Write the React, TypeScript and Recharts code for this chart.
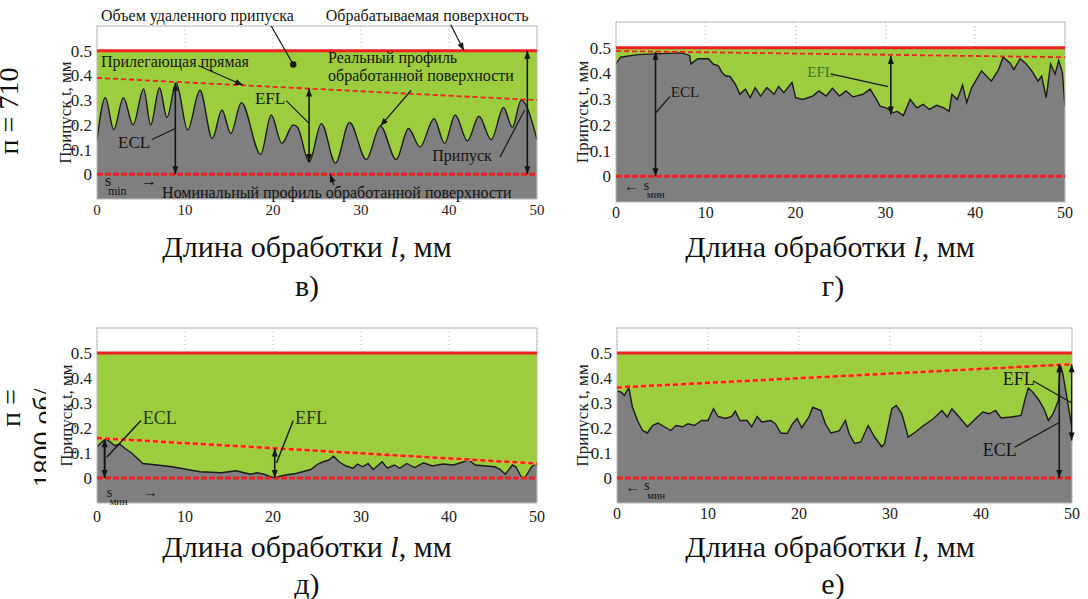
import React from 'react';
import { ComposedChart, Area, XAxis, YAxis, CartesianGrid, ReferenceLine, ReferenceDot, ReferenceArea } from 'recharts';

const SERIF = 'Liberation Serif, Times New Roman, Times, DejaVu Serif, serif';
const GREEN = '#9ccd3e';
const GREY = '#7f7f7f';
const RED = '#ee2222';
const INK = '#151515';

const xTicks = [0, 10, 20, 30, 40, 50];
const yTicks = [0, 0.1, 0.2, 0.3, 0.4, 0.5];
const surfaceLevel = 0.5; // обрабатываемая поверхность
const nominalLevel = 0; // номинальный профиль

// в) профиль
const profileVX = [0, 0.95, 1.9, 3.0, 4.1, 5.3, 6.1, 7.1, 7.95, 9.0, 10.3, 11.7, 13.1, 14.2, 15.2, 16.4, 18.6, 19.8, 21.0, 22.3, 22.8, 24.1, 25.5, 27.1, 28.7, 30.6, 32.2, 34.0, 35.4, 36.7, 38.3, 39.5, 40.7, 42.1, 43.4, 44.8, 46.2, 47.2, 48.2, 50];
const profileVT = [0.14, 0.31, 0.18, 0.31, 0.2, 0.345, 0.2, 0.35, 0.23, 0.37, 0.18, 0.34, 0.145, 0.26, 0.165, 0.29, 0.08, 0.24, 0.125, 0.2, 0.19, 0.05, 0.205, 0.045, 0.21, 0.06, 0.195, 0.06, 0.185, 0.11, 0.225, 0.125, 0.24, 0.135, 0.235, 0.14, 0.27, 0.19, 0.3, 0.14];
const fitV = [0.39, 0.3];

// г) профиль
const profileGX = [0, 0.5, 2.4, 5.0, 7.3, 8.2, 8.35, 9.1, 10.3, 10.8, 11.4, 11.8, 12.2, 12.7, 13.3, 13.8, 14.4, 14.95, 15.5, 16.1, 16.8, 17.6, 18.1, 18.7, 19.6, 20.0, 20.8, 21.9, 22.6, 23.4, 24.1, 24.9, 25.6, 26.4, 27.5, 28.3, 29.0, 29.4, 30.1, 30.9, 31.3, 32.0, 32.75, 33.5, 34.2, 34.9, 35.7, 36.5, 37.1, 37.4, 38.0, 38.6, 39.05, 39.6, 40.7, 41.8, 42.6, 43.1, 43.9, 44.3, 45.0, 45.6, 46.3, 47.0, 47.4, 47.9, 48.4, 48.9, 49.3, 49.7, 50];
const profileGT = [0.437, 0.463, 0.473, 0.477, 0.48, 0.47, 0.437, 0.457, 0.457, 0.437, 0.43, 0.404, 0.391, 0.388, 0.358, 0.319, 0.339, 0.306, 0.345, 0.312, 0.345, 0.319, 0.349, 0.325, 0.365, 0.306, 0.299, 0.312, 0.332, 0.312, 0.342, 0.312, 0.332, 0.309, 0.319, 0.339, 0.299, 0.273, 0.266, 0.247, 0.253, 0.236, 0.299, 0.266, 0.28, 0.26, 0.276, 0.266, 0.253, 0.319, 0.299, 0.354, 0.286, 0.344, 0.41, 0.37, 0.415, 0.463, 0.44, 0.415, 0.457, 0.44, 0.41, 0.37, 0.39, 0.306, 0.437, 0.398, 0.45, 0.404, 0.273];
const fitG = [0.487, 0.463];

// д) профиль
const profileDX = [0, 0.54, 0.95, 1.56, 1.97, 2.6, 3.2, 4.0, 4.6, 5.2, 6.8, 8.5, 10.1, 11.7, 14.1, 15.8, 17.4, 18.2, 19.0, 20.1, 20.6, 21.4, 22.6, 24.3, 25.1, 25.7, 26.3, 26.9, 27.5, 28.3, 29.1, 29.6, 30.2, 30.8, 31.4, 32.4, 33.0, 33.8, 34.4, 35.2, 36.1, 37.1, 38.1, 39.3, 40.5, 41.7, 42.2, 43.0, 44.2, 45.2, 45.8, 46.4, 47.2, 47.6, 48.2, 48.6, 49.4, 49.9, 50];
const profileDT = [0.124, 0.143, 0.157, 0.143, 0.13, 0.135, 0.118, 0.098, 0.078, 0.058, 0.052, 0.045, 0.035, 0.025, 0.021, 0.029, 0.015, 0.021, 0.015, 0.0, 0.005, 0.012, 0.018, 0.034, 0.056, 0.065, 0.071, 0.087, 0.065, 0.048, 0.039, 0.056, 0.045, 0.058, 0.034, 0.065, 0.039, 0.052, 0.039, 0.058, 0.042, 0.061, 0.048, 0.056, 0.052, 0.065, 0.074, 0.052, 0.048, 0.045, 0.035, 0.015, 0.052, 0.045, 0.005, 0.0, 0.045, 0.058, 0.045];
const fitD = [0.16, 0.058];

// е) профиль
const profileEX = [0, 0.5, 0.8, 1.3, 1.7, 2.25, 2.8, 3.35, 3.9, 4.5, 5.2, 5.9, 6.5, 7.2, 7.8, 8.5, 9.3, 10.0, 10.6, 11.1, 11.9, 12.6, 13.0, 13.5, 14.3, 14.8, 15.4, 15.9, 16.9, 17.4, 18.0, 18.7, 19.3, 19.8, 20.3, 21.1, 21.5, 22.4, 22.9, 23.5, 24.4, 25.1, 25.5, 26.1, 26.8, 27.6, 28.3, 29.1, 29.4, 30.2, 30.7, 31.3, 32.0, 32.8, 33.7, 34.8, 35.7, 36.3, 36.8, 37.6, 38.5, 39.6, 40.2, 40.9, 41.6, 42.2, 43.3, 44.4, 44.9, 45.2, 45.7, 46.4, 47.0, 47.4, 47.9, 48.5, 48.7, 49.0, 49.5, 50];
const profileET = [0.349, 0.343, 0.33, 0.362, 0.283, 0.23, 0.19, 0.18, 0.21, 0.22, 0.205, 0.19, 0.21, 0.205, 0.217, 0.21, 0.23, 0.23, 0.277, 0.246, 0.238, 0.246, 0.267, 0.23, 0.23, 0.205, 0.246, 0.224, 0.23, 0.217, 0.18, 0.178, 0.217, 0.238, 0.201, 0.244, 0.283, 0.27, 0.217, 0.18, 0.188, 0.23, 0.178, 0.138, 0.144, 0.21, 0.164, 0.125, 0.138, 0.277, 0.29, 0.257, 0.164, 0.184, 0.21, 0.238, 0.27, 0.244, 0.277, 0.244, 0.205, 0.244, 0.264, 0.257, 0.27, 0.24, 0.244, 0.25, 0.323, 0.36, 0.343, 0.31, 0.27, 0.23, 0.255, 0.31, 0.455, 0.415, 0.31, 0.197];
const fitE = [0.362, 0.455];

type Seg = { x1: number; y1: number; x2: number; y2: number; head?: 'end' | 'both' | 'dot'; w?: number };
type Note = { x: number; y: number; text: string; size?: number; color?: string; sub?: string };

// annotations (data coordinates)
const segsV: Seg[] = [
  { x1: 19.8, y1: 0.6, x2: 22.3, y2: 0.444, head: 'dot' },
  { x1: 40.2, y1: 0.605, x2: 41.7, y2: 0.5, head: 'end' },
  { x1: 11.5, y1: 0.44, x2: 16.6, y2: 0.36, head: 'end' },
  { x1: 35.7, y1: 0.34, x2: 32.2, y2: 0.195, head: 'end' },
  { x1: 21.5, y1: 0.298, x2: 24.1, y2: 0.206 },
  { x1: 6.25, y1: 0.141, x2: 8.9, y2: 0.185 },
  { x1: 45.8, y1: 0.07, x2: 48.6, y2: 0.26 },
  { x1: 26.9, y1: -0.044, x2: 26.5, y2: 0, head: 'end' },
  { x1: 8.9, y1: 0, x2: 8.9, y2: 0.37, head: 'both', w: 1.6 },
  { x1: 24.1, y1: 0.05, x2: 24.1, y2: 0.347, head: 'both', w: 1.6 },
  { x1: 48.9, y1: 0, x2: 48.9, y2: 0.5, head: 'both', w: 1.6 },
];
const notesV: Note[] = [
  { x: 0.45, y: 0.641, text: 'Объем удаленного припуска' },
  { x: 26.0, y: 0.641, text: 'Обрабатываемая поверхность' },
  { x: 0.45, y: 0.456, text: 'Прилегающая прямая' },
  { x: 26.25, y: 0.472, text: 'Реальный профиль' },
  { x: 26.25, y: 0.4, text: 'обработанной поверхности' },
  { x: 17.95, y: 0.306, text: 'EFL', size: 17 },
  { x: 2.4, y: 0.129, text: 'ECL', size: 17 },
  { x: 38.1, y: 0.077, text: 'Припуск' },
  { x: 0.9, y: -0.026, text: 's', sub: 'min' },
  { x: 5.0, y: -0.024, text: '→' },
  { x: 7.4, y: -0.073, text: 'Номинальный профиль обработанной поверхности' },
];

const segsG: Seg[] = [
  { x1: 4.4, y1: 0, x2: 4.4, y2: 0.484, head: 'both', w: 1.6 },
  { x1: 6.0, y1: 0.31, x2: 4.45, y2: 0.248 },
  { x1: 23.9, y1: 0.398, x2: 30.3, y2: 0.349 },
  { x1: 30.6, y1: 0.24, x2: 30.6, y2: 0.468, head: 'both', w: 1.6 },
];
const notesG: Note[] = [
  { x: 6.1, y: 0.327, text: 'ECL', size: 15 },
  { x: 21.3, y: 0.405, text: 'EFL', size: 15, color: '#3d7a26' },
  { x: 0.9, y: -0.039, text: '←', size: 15 },
  { x: 3.1, y: -0.034, text: 's', sub: 'мин', size: 14 },
];

const segsD: Seg[] = [
  { x1: 0.87, y1: 0, x2: 0.87, y2: 0.155, head: 'both', w: 2 },
  { x1: 5.0, y1: 0.23, x2: 1.1, y2: 0.083, w: 1.4 },
  { x1: 20.2, y1: 0, x2: 20.2, y2: 0.118, head: 'both', w: 1.6 },
  { x1: 22.3, y1: 0.23, x2: 20.4, y2: 0.06, w: 1.4 },
];
const notesD: Note[] = [
  { x: 5.2, y: 0.242, text: 'ECL', size: 18, color: '#1e3a10' },
  { x: 22.5, y: 0.242, text: 'EFL', size: 18, color: '#1e3a10' },
  { x: 1.1, y: -0.056, text: 's', sub: 'мин', size: 14 },
  { x: 5.2, y: -0.056, text: '→', size: 15 },
];

const segsE: Seg[] = [
  { x1: 48.6, y1: 0, x2: 48.6, y2: 0.455, head: 'both', w: 1.6 },
  { x1: 49.96, y1: 0.15, x2: 49.96, y2: 0.455, head: 'both', w: 1.4 },
  { x1: 45.7, y1: 0.389, x2: 50, y2: 0.3 },
  { x1: 43.7, y1: 0.123, x2: 48.6, y2: 0.222 },
];
const notesE: Note[] = [
  { x: 42.4, y: 0.397, text: 'EFL', size: 18 },
  { x: 40.2, y: 0.111, text: 'ECL', size: 18 },
  { x: 0.9, y: -0.036, text: '←', size: 15 },
  { x: 3.0, y: -0.031, text: 's', sub: 'мин', size: 14 },
];

const rows = (xs: number[], ts: number[]) => xs.map((x, i) => ({ x, t: ts[i] }));

const arrowHead = (tx: number, ty: number, fx: number, fy: number, len = 8, half = 3) => {
  const dx = tx - fx;
  const dy = ty - fy;
  const d = Math.hypot(dx, dy) || 1;
  const ux = dx / d;
  const uy = dy / d;
  const bx = tx - ux * len;
  const by = ty - uy * len;
  return `M${tx},${ty} L${bx - uy * half},${by + ux * half} L${bx + uy * half},${by - ux * half} Z`;
};

const segShape = (s: Seg) => (p: any) => {
  const { x1, y1, x2, y2 } = p;
  return (
    <g>
      <line x1={x1} y1={y1} x2={x2} y2={y2} stroke={INK} strokeWidth={s.w ?? 1.2} />
      {(s.head === 'end' || s.head === 'both') && <path d={arrowHead(x2, y2, x1, y1)} fill={INK} />}
      {s.head === 'both' && <path d={arrowHead(x1, y1, x2, y2)} fill={INK} />}
      {s.head === 'dot' && <circle cx={x2} cy={y2} r={3.2} fill={INK} />}
    </g>
  );
};

const noteShape = (n: Note) => (p: any) => {
  const size = n.size ?? 16;
  return (
    <text x={p.cx} y={p.cy} dominantBaseline="central" fontFamily={SERIF} fontSize={size} fill={n.color ?? INK}>
      {n.text}
      {n.sub && (
        <tspan x={p.cx + 3} dy={size * 0.65} fontSize={size * 0.75}>
          {n.sub}
        </tspan>
      )}
    </text>
  );
};

type PanelProps = {
  left: number;
  top: number;
  width: number;
  margin: { top: number; right: number; bottom: number; left: number };
  yAxisWidth: number;
  xTickMargin?: number;
  xs: number[];
  ts: number[];
  fit: number[];
  orangeFit?: boolean;
  curve: 'monotone' | 'linear';
  segs: Seg[];
  notes: Note[];
  tickSize?: number;
};

const Panel = ({ left, top, width, margin, yAxisWidth, xTickMargin = 2, xs, ts, fit, orangeFit, curve, segs, notes, tickSize = 16 }: PanelProps) => {
  const data = rows(xs, ts);
  const fitSegment = [
    { x: 0, y: fit[0] },
    { x: 50, y: fit[1] },
  ];
  return (
    <div style={{ position: 'absolute', left, top }}>
      <ComposedChart width={width} height={230} data={data} margin={margin}>
        <XAxis
          type="number"
          dataKey="x"
          domain={[0, 50]}
          ticks={xTicks}
          interval={0}
          allowDataOverflow
          axisLine={false}
          tickLine={false}
          tickSize={3}
          tickMargin={xTickMargin}
          height={25}
          tick={{ fontSize: tickSize, fill: '#222', fontFamily: SERIF }}
        />
        <YAxis
          type="number"
          domain={[-0.1, 0.6]}
          ticks={yTicks}
          interval={0}
          allowDataOverflow
          axisLine={false}
          tickLine={false}
          tickSize={3}
          tickMargin={2}
          width={yAxisWidth}
          tickFormatter={(v: number) => String(v)}
          tick={{ fontSize: 17, fill: '#222', fontFamily: SERIF }}
          label={{ value: 'Припуск t, мм', angle: -90, position: 'center', fontSize: 17, fill: '#222', fontFamily: SERIF, style: { textAnchor: 'middle' } }}
        />
        <Area type="linear" dataKey={() => surfaceLevel} baseValue={-0.1} fill={GREEN} fillOpacity={1} stroke="none" dot={false} activeDot={false} isAnimationActive={false} />
        <Area type={curve} dataKey="t" baseValue={-0.1} fill={GREY} fillOpacity={1} stroke="#1b1b1b" strokeWidth={1.4} dot={false} activeDot={false} isAnimationActive={false} />
        <CartesianGrid stroke="#555" strokeOpacity={0.45} strokeDasharray="1 3" />
        <ReferenceArea x1={0} x2={50} y1={-0.1} y2={0.6} fill="none" stroke="#bdbdbd" strokeWidth={1} ifOverflow="visible" />
        <ReferenceLine y={surfaceLevel} stroke={RED} strokeWidth={3} />
        <ReferenceLine y={nominalLevel} stroke={RED} strokeWidth={3} strokeDasharray="6 2" />
        {orangeFit && <ReferenceLine segment={fitSegment} stroke="#f2b43a" strokeWidth={2.5} />}
        <ReferenceLine segment={fitSegment} stroke={RED} strokeWidth={orangeFit ? 2.5 : 1.8} strokeDasharray="5 3" />
        {segs.map((s, i) => (
          <ReferenceLine
            key={`s${i}`}
            segment={[
              { x: s.x1, y: s.y1 },
              { x: s.x2, y: s.y2 },
            ]}
            ifOverflow="visible"
            shape={segShape(s)}
          />
        ))}
        {notes.map((n, i) => (
          <ReferenceDot key={`n${i}`} x={n.x} y={n.y} r={0} ifOverflow="visible" shape={noteShape(n)} />
        ))}
      </ComposedChart>
    </div>
  );
};

const Caption = ({ cx, cy, children }: { cx: number; cy: number; children: React.ReactNode }) => (
  <div
    style={{
      position: 'absolute',
      left: cx - 220,
      top: cy - 17,
      width: 440,
      lineHeight: '34px',
      textAlign: 'center',
      fontFamily: SERIF,
      fontSize: 30,
      color: '#111',
      whiteSpace: 'nowrap',
    }}
  >
    {children}
  </div>
);

const AxisTitle = () => (
  <>
    Длина обработки <i>l</i>, мм
  </>
);

export default function App() {
  return (
    <div style={{ position: 'absolute', left: 0, top: 0, width: 1088, height: 599, background: '#fff', overflow: 'hidden' }}>
      <svg width={60} height={599} style={{ position: 'absolute', left: 0, top: 0 }}>
        <defs>
          <clipPath id="cut2">
            <rect x={28} y={380} width={18} height={115} />
          </clipPath>
        </defs>
        <text x={18} y={111} transform="rotate(-90 18 111)" textAnchor="middle" fontFamily={SERIF} fontSize={28} fill="#111">
          п = 710
        </text>
        <text x={20} y={408} transform="rotate(-90 20 408)" textAnchor="middle" fontFamily={SERIF} fontSize={28} fill="#111">
          п =
        </text>
        <g clipPath="url(#cut2)">
          <text x={52} y={438} transform="rotate(-90 52 438)" textAnchor="middle" fontFamily={SERIF} fontSize={28} fill="#111">
            1800 об/
          </text>
        </g>
      </svg>

      <Panel left={0} top={0} width={560} margin={{ top: 26, right: 23, bottom: 6, left: 33 }} yAxisWidth={64} xs={profileVX} ts={profileVT} fit={fitV} curve="monotone" segs={segsV} notes={notesV} tickSize={15} />
      <Panel left={540} top={0} width={548} margin={{ top: 22, right: 23, bottom: 3, left: 8 }} yAxisWidth={68} xs={profileGX} ts={profileGT} fit={fitG} curve="linear" segs={segsG} notes={notesG} />
      <Panel left={0} top={300} width={560} margin={{ top: 28, right: 23, bottom: 2, left: 35 }} yAxisWidth={62} xTickMargin={5} xs={profileDX} ts={profileDT} fit={fitD} orangeFit curve="linear" segs={segsD} notes={notesD} />
      <Panel left={540} top={300} width={548} margin={{ top: 28, right: 16, bottom: 2, left: 7 }} yAxisWidth={70} xs={profileEX} ts={profileET} fit={fitE} orangeFit curve="linear" segs={segsE} notes={notesE} />

      <Caption cx={307} cy={247}><AxisTitle /></Caption>
      <Caption cx={307} cy={286}>в)</Caption>
      <Caption cx={830} cy={247}><AxisTitle /></Caption>
      <Caption cx={833} cy={286}>г)</Caption>
      <Caption cx={307} cy={547}><AxisTitle /></Caption>
      <Caption cx={307} cy={584}>д)</Caption>
      <Caption cx={830} cy={547}><AxisTitle /></Caption>
      <Caption cx={833} cy={584}>е)</Caption>
    </div>
  );
}
